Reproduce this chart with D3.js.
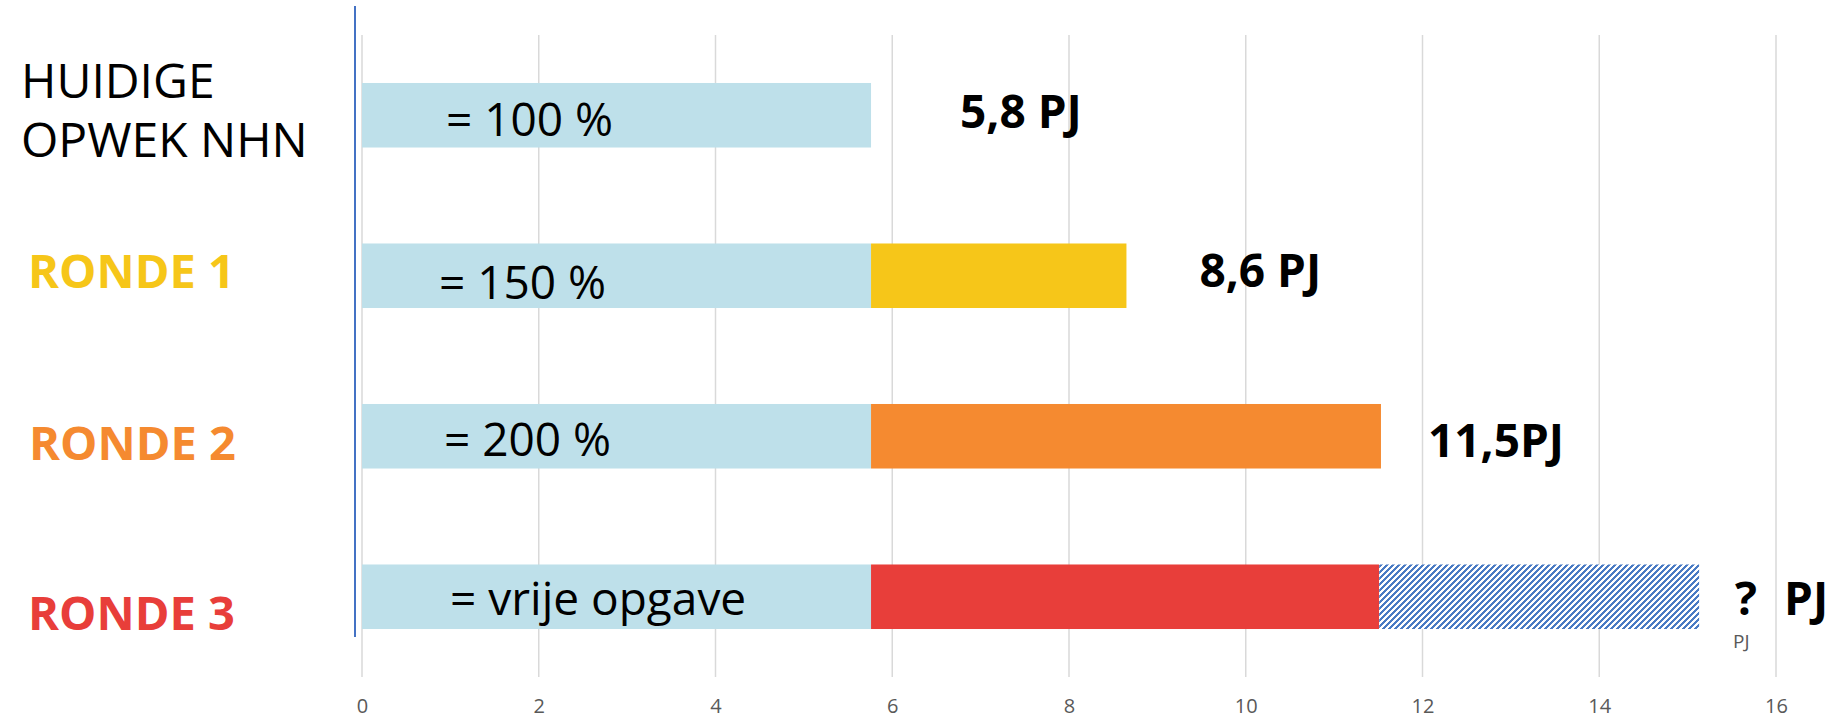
<!DOCTYPE html>
<html>
<head>
<meta charset="utf-8">
<script src="https://cdn.jsdelivr.net/npm/d3@7"></script>
<style>
    body { margin: 0; background: #fff; }
    svg { display: block; font-family: "Open Sans", "Noto Sans", sans-serif; }
    .grid line { stroke: #d9d9d9; stroke-width: 1.5; }
    .x-axis text { fill: #595959; font-size: 20px; font-family: "Open Sans", sans-serif; }
</style>
</head>
<body>
<div id="chart"></div>
<script>
// Data
const categories = ["HUIDIGE OPWEK NHN", "RONDE 1", "RONDE 2", "RONDE 3"];
const categoryLines = [["HUIDIGE", "OPWEK NHN"], ["RONDE 1"], ["RONDE 2"], ["RONDE 3"]];
const currentOutput = [5.76, 5.76, 5.76, 5.76];   // huidige opwek (PJ)
const roundExtra = [0, 2.89, 5.77, 5.75];          // extra per ronde (PJ)
const openExtra = [0, 0, 0, 3.62];                 // vrije opgave, onbekend
const shareLabels = ["= 100 %", "= 150 %", "= 200 %", "= vrije opgave"];
const totalLabels = ["5,8 PJ", "8,6 PJ", "11,5PJ", "?"];
const xTicks = [0, 2, 4, 6, 8, 10, 12, 14, 16];

// Colours
const baseColor = "#bee0ea";
const roundColors = ["#bee0ea", "#f6c619", "#f58a30", "#e83e3a"];
const nameColors = ["#000000", "#f6c619", "#f58a30", "#e83e3a"];
const hatchColor = "#4a7bc4";

// Hand-placed text offsets (like the text boxes in the original)
const nameX = [21, 28, 29, 28];
const nameDy = [[-17, 41.5], [12.7], [23.3], [32.8]];
const shareDx = [84, 77, 82, 88];
const shareDy = [21, 23.4, 20, 18.5];
const totalDx = [89, 73, 47, 36];
const totalDy = [13, 11.7, 20.7, 18.5];

// Chart dimensions and margins
const W = 1843, H = 719;
const margin = { top: 35, right: 67, bottom: 42, left: 362 };
const width = W - margin.left - margin.right;
const height = H - margin.top - margin.bottom;

const svg = d3.select("#chart")
    .append("svg")
    .attr("width", W)
    .attr("height", H);

// Pixel hatch pattern (upward diagonal) for the open part
const hp = 6;
const hatch = svg.append("defs")
    .append("pattern")
    .attr("id", "hatch")
    .attr("patternUnits", "userSpaceOnUse")
    .attr("width", hp)
    .attr("height", hp);

hatch.append("rect")
    .attr("width", hp)
    .attr("height", hp)
    .attr("fill", "#fff");

// each row: a 3px run, shifted one pixel per row, plus a wrapped copy
hatch.selectAll(".px")
    .data(d3.range(hp).flatMap(r => [[r, hp - 1 - r], [r, hp - 1 - r - hp]]))
    .enter()
    .append("rect")
    .attr("class", "px")
    .attr("x", d => d[1])
    .attr("y", d => d[0])
    .attr("width", 3)
    .attr("height", 1)
    .attr("fill", hatchColor)
    .attr("shape-rendering", "crispEdges");

const g = svg.append("g")
    .attr("transform", `translate(${margin.left},${margin.top})`);

// Scales
const xScale = d3.scaleLinear()
    .domain([0, 16])
    .range([0, width]);

const yScale = d3.scaleBand()
    .domain(categories)
    .range([0, height])
    .paddingInner(0.598)
    .paddingOuter(0.299);

// Gridlines
g.append("g")
    .attr("class", "grid")
    .selectAll("line")
    .data(xTicks)
    .enter()
    .append("line")
    .attr("x1", d => xScale(d))
    .attr("x2", d => xScale(d))
    .attr("y1", 0)
    .attr("y2", height);

// x axis labels
const xAxis = d3.axisBottom(xScale)
    .tickValues(xTicks)
    .tickSize(0)
    .tickPadding(22)
    .tickFormat(d3.format("d"));

g.append("g")
    .attr("class", "x-axis")
    .attr("transform", `translate(0,${height})`)
    .call(xAxis)
    .call(a => a.select(".domain").remove());

// Stacked bars
const table = categories.map((c, i) => ({
    category: c,
    base: currentOutput[i],
    extra: roundExtra[i],
    open: openExtra[i]
}));

const stack = d3.stack().keys(["base", "extra", "open"]);
const series = stack(table);

series.forEach(s => {
    g.append("g")
        .selectAll("rect")
        .data(s.map((d, i) => ({ d, i })))
        .enter()
        .filter(o => o.d[1] - o.d[0] > 0)
        .append("rect")
        .attr("x", o => xScale(o.d[0]))
        .attr("y", o => yScale(o.d.data.category))
        .attr("width", o => xScale(o.d[1]) - xScale(o.d[0]))
        .attr("height", yScale.bandwidth())
        .attr("fill", o => {
            if (s.key === "base") return baseColor;
            if (s.key === "extra") return roundColors[o.i];
            return "url(#hatch)";
        });
});

// Vertical blue line at the left
g.append("line")
    .attr("x1", xScale(0) - 7)
    .attr("x2", xScale(0) - 7)
    .attr("y1", -29)
    .attr("y2", yScale(categories[3]) + yScale.bandwidth() + 8)
    .attr("stroke", "#4472c4")
    .attr("stroke-width", 2);

const center = c => yScale(c) + yScale.bandwidth() / 2;

// Category names
categories.forEach((c, i) => {
    categoryLines[i].forEach((line, j) => {
        svg.append("text")
            .attr("x", nameX[i])
            .attr("y", margin.top + center(c) + nameDy[i][j])
            .attr("fill", nameColors[i])
            .style("font-size", i === 0 ? "48px" : "47px")
            .style("font-weight", i === 0 ? 400 : 700)
            .text(line);
    });
});

// Labels inside the bars
g.selectAll(".share")
    .data(shareLabels)
    .enter()
    .append("text")
    .attr("class", "share")
    .attr("x", (d, i) => xScale(0) + shareDx[i])
    .attr("y", (d, i) => center(categories[i]) + shareDy[i])
    .style("font-size", "46px")
    .attr("fill", "#000")
    .text(d => d);

// Totals to the right of the bars
const totals = series[series.length - 1];
const totalText = g.selectAll(".total")
    .data(totalLabels)
    .enter()
    .append("text")
    .attr("class", "total")
    .attr("x", (d, i) => xScale(totals[i][1]) + totalDx[i])
    .attr("y", (d, i) => center(categories[i]) + totalDy[i])
    .style("font-size", "46px")
    .style("font-weight", 700)
    .attr("fill", "#000")
    .text(d => d);

// "? PJ" in the last row
totalText.filter((d, i) => i === 3)
    .append("tspan")
    .attr("dx", 27)
    .text("PJ");

// small grey unit under the question mark
g.append("text")
    .attr("x", xScale(totals[3][1]) + totalDx[3] - 2)
    .attr("y", center(categories[3]) + 51.5)
    .style("font-size", "19px")
    .attr("fill", "#595959")
    .text("PJ");
</script>
</body>
</html>
